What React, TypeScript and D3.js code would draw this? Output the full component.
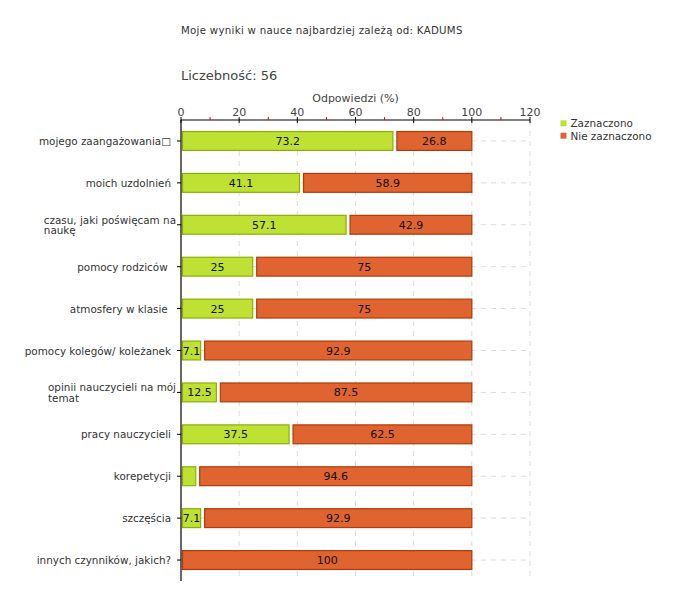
import React, { useEffect, useRef } from "react";
import * as d3 from "d3";

const title = "Moje wyniki w nauce najbardziej zależą od: KADUMS";
const countLabel = "Liczebność: 56";
const axisTitle = "Odpowiedzi (%)";
const categories: string[][] = [
  ["mojego zaangażowania\u25A1"],
  ["moich uzdolnień"],
  ["czasu, jaki poświęcam na", "naukę"],
  ["pomocy rodziców "],
  ["atmosfery w klasie "],
  ["pomocy kolegów/ koleżanek"],
  ["opinii nauczycieli na mój", "temat"],
  ["pracy nauczycieli"],
  ["korepetycji"],
  ["szczęścia"],
  ["innych czynników, jakich?"],
];
const zaznaczono = [73.2, 41.1, 57.1, 25, 25, 7.1, 12.5, 37.5, 5.4, 7.1, 0];
const nieZaznaczono = [26.8, 58.9, 42.9, 75, 75, 92.9, 87.5, 62.5, 94.6, 92.9, 100];
const xTicks = [0, 20, 40, 60, 80, 100, 120];
const minorTicks = [10, 30, 50, 70, 90, 110];
const seriesNames = ["Zaznaczono", "Nie zaznaczono"];

const GREEN = "#bee133";
const GREEN_STROKE = "#8cad05";
const ORANGE = "#e06430";
const ORANGE_STROKE = "#b03a08";
const FONT = "'DejaVu Sans', Verdana, sans-serif";
const LABEL_SIZE = 10.4;

export default function App() {
  const ref = useRef<SVGSVGElement | null>(null);
  useEffect(() => {
    const svg = d3.select(ref.current);
    svg.selectAll("*").remove();
    const keys = categories.map((c, i) => String(i));
    const x = d3.scaleLinear().domain([0, 120]).range([181, 530]);
    const y = d3
      .scaleBand<string>()
      .domain(keys)
      .range([120, 581])
      .paddingInner(0.55)
      .paddingOuter(0.275);
    const g = svg.append("g").style("font-family", FONT);

    g.append("text").attr("x", 181).attr("y", 34).attr("font-size", 10.2).attr("letter-spacing", 0.3)
      .attr("fill", "#333").text(title);
    g.append("text").attr("x", 181).attr("y", 80).attr("font-size", 13).attr("fill", "#444").text(countLabel);
    g.append("text").attr("x", x(60)).attr("y", 102).attr("font-size", 11).attr("text-anchor", "middle").attr("fill", "#444").text(axisTitle);

    // vertical grid
    g.selectAll(".vg")
      .data(xTicks.slice(1))
      .enter()
      .append("line")
      .attr("x1", (d) => x(d))
      .attr("x2", (d) => x(d))
      .attr("y1", 121)
      .attr("y2", 578)
      .attr("stroke", "#dcdcdc")
      .attr("stroke-dasharray", "5,5");
    // horizontal grid
    g.selectAll(".hg")
      .data(keys)
      .enter()
      .append("line")
      .attr("x1", x(0))
      .attr("x2", x(120))
      .attr("y1", (d) => (y(d) as number) + y.bandwidth() / 2)
      .attr("y2", (d) => (y(d) as number) + y.bandwidth() / 2)
      .attr("stroke", "#dcdcdc")
      .attr("stroke-dasharray", "5,5");

    // bars
    const bw = y.bandwidth();
    keys.forEach((k, i) => {
      const top = y(k) as number;
      const v1 = zaznaczono[i];
      const v2 = nieZaznaczono[i];
      if (v1 > 0) {
        const x0 = x(0) + 1.5;
        const x1 = x(v1) - 1;
        g.append("rect").attr("x", x0).attr("y", top).attr("width", x1 - x0).attr("height", bw)
          .attr("fill", GREEN).attr("stroke", GREEN_STROKE).attr("stroke-width", 1.2);
        const t = g.append("text").attr("x", (x0 + x1) / 2).attr("y", top + bw / 2 + 4).attr("font-size", 11)
          .attr("text-anchor", "middle").attr("fill", "#111").text(String(v1));
        const w = (t.node() as SVGTextElement).getComputedTextLength();
        if (w > x1 - x0 + 1) t.remove();
      }
      if (v2 > 0) {
        const x0 = v1 > 0 ? x(v1) + 3 : x(0) + 1.5;
        const x1 = x(v1 + v2);
        g.append("rect").attr("x", x0).attr("y", top).attr("width", x1 - x0).attr("height", bw)
          .attr("fill", ORANGE).attr("stroke", ORANGE_STROKE).attr("stroke-width", 1.2);
        g.append("text").attr("x", (x0 + x1) / 2).attr("y", top + bw / 2 + 4).attr("font-size", 11)
          .attr("text-anchor", "middle").attr("fill", "#111").text(String(v2));
      }
    });

    // axes
    g.append("line").attr("x1", x(0)).attr("x2", x(120)).attr("y1", 120).attr("y2", 120).attr("stroke", "#000").attr("stroke-width", 1.2);
    g.append("line").attr("x1", x(0)).attr("x2", x(0)).attr("y1", 120).attr("y2", 581).attr("stroke", "#000").attr("stroke-width", 1.2);
    g.selectAll(".mt").data(xTicks).enter().append("line")
      .attr("x1", (d) => x(d)).attr("x2", (d) => x(d)).attr("y1", 117).attr("y2", 123).attr("stroke", "#000");
    g.selectAll(".nt").data(minorTicks).enter().append("line")
      .attr("x1", (d) => x(d)).attr("x2", (d) => x(d)).attr("y1", 117).attr("y2", 120).attr("stroke", "#e00000");
    g.selectAll(".tl").data(xTicks).enter().append("text")
      .attr("x", (d) => x(d)).attr("y", 115.5).attr("font-size", 11).attr("text-anchor", "middle").attr("fill", "#444")
      .text((d) => String(d));

    // category ticks and labels
    keys.forEach((k, i) => {
      const c = (y(k) as number) + bw / 2;
      g.append("line").attr("x1", 177).attr("x2", 181).attr("y1", c).attr("y2", c).attr("stroke", "#000");
      const lines = categories[i];
      if (lines.length === 1) {
        g.append("text").attr("x", 171).attr("y", c + 4).attr("font-size", LABEL_SIZE).attr("text-anchor", "end")
          .attr("fill", "#333").style("white-space", "pre").text(lines[0]);
      } else {
        const t1 = g.append("text").attr("x", 176).attr("y", c - 1).attr("font-size", LABEL_SIZE).attr("text-anchor", "end")
          .attr("fill", "#333").text(lines[0]);
        const w = (t1.node() as SVGTextElement).getComputedTextLength();
        g.append("text").attr("x", 176 - w).attr("y", c + 9.5).attr("font-size", LABEL_SIZE)
          .attr("fill", "#333").text(lines[1]);
      }
    });

    // legend
    const colors = [GREEN, ORANGE];
    seriesNames.forEach((n, i) => {
      const cy = 123.3 + i * 12.4;
      g.append("rect").attr("x", 560.5).attr("y", cy - 3).attr("width", 6).attr("height", 6).attr("fill", colors[i]);
      g.append("text").attr("x", 570.5).attr("y", cy + 4).attr("font-size", LABEL_SIZE).attr("fill", "#333").text(n);
    });
  }, []);
  return (
    <svg
      ref={ref}
      width={680}
      height={600}
      style={{ position: "absolute", left: 0, top: 0, background: "#fff" }}
    />
  );
}
